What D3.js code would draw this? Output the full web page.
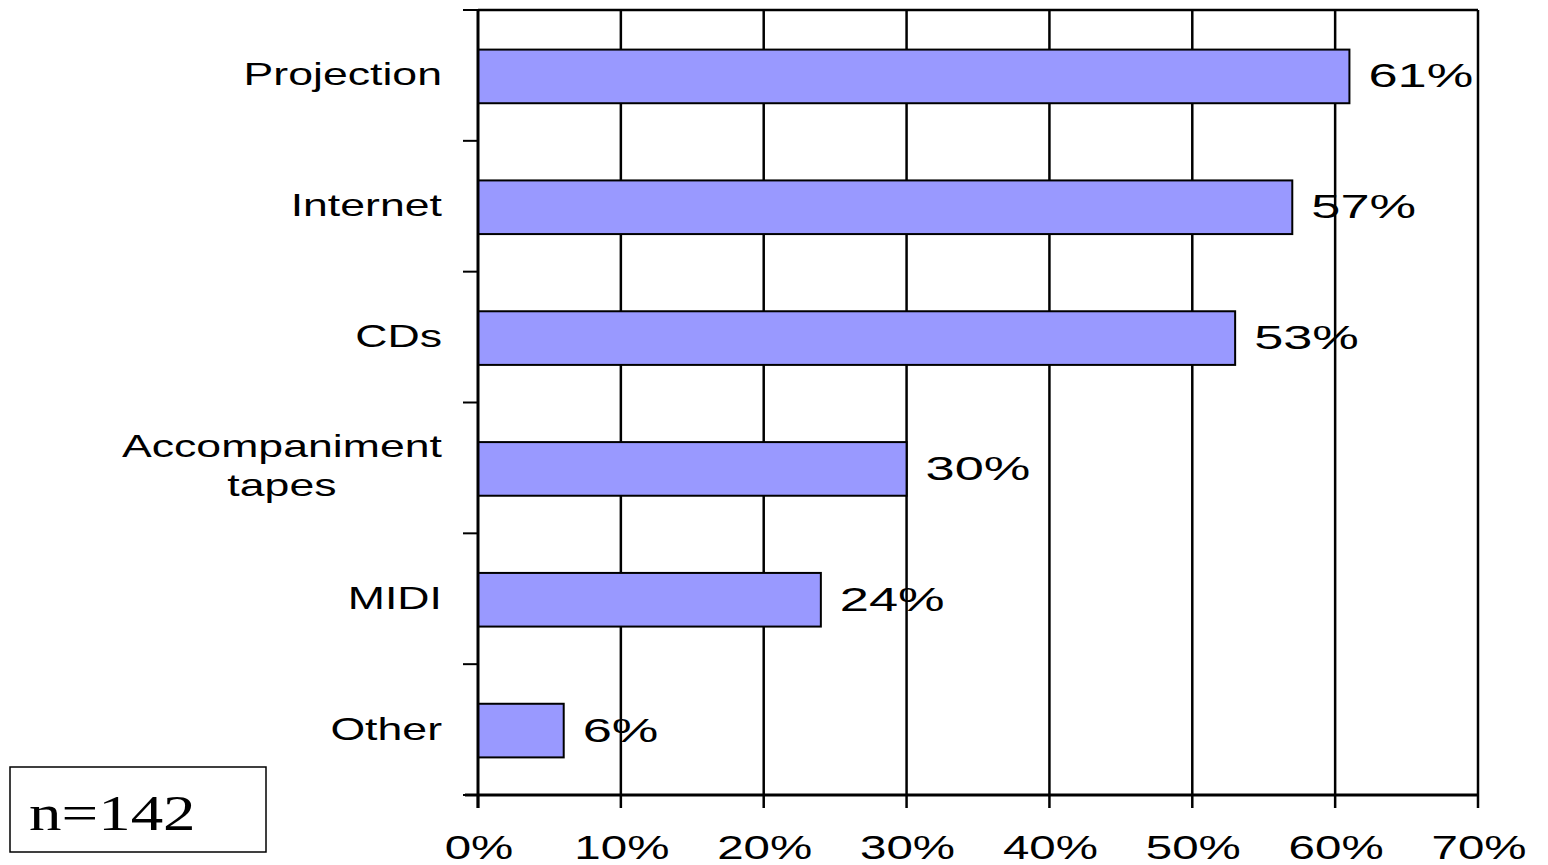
<!DOCTYPE html>
<html><head><meta charset="utf-8">
<script src="https://cdn.jsdelivr.net/npm/d3@7"></script>
<style>body{margin:0;background:#fff}svg{display:block}</style>
</head><body>
<svg id="c" width="1548" height="865"></svg>
<script>
const categories = ["Projection", "Internet", "CDs", "Accompaniment\ntapes", "MIDI", "Other"];
const values = [61, 57, 53, 30, 24, 6];
const xTicks = [0, 10, 20, 30, 40, 50, 60, 70];
const sampleNote = "n=142";

const svg = d3.select("#c");
const L = 478, R = 1478, T = 10, B = 795;
const x = d3.scaleLinear().domain([0, 70]).range([L, R]);
const y = d3.scaleBand().domain(categories).range([T, B]).padding(0);
const barH = y.bandwidth() * 0.41;
const font = "'Liberation Sans', Arial, sans-serif";

// gridlines
svg.append("g").selectAll("line").data(xTicks.slice(1)).join("line")
  .attr("x1", d => x(d)).attr("x2", d => x(d)).attr("y1", T).attr("y2", B)
  .attr("stroke", "#000").attr("stroke-width", 2.5);
svg.append("line").attr("x1", L).attr("x2", R).attr("y1", T).attr("y2", T)
  .attr("stroke", "#000").attr("stroke-width", 2.5);

// bars
svg.append("g").selectAll("rect").data(categories).join("rect")
  .attr("x", L).attr("y", d => y(d) + y.bandwidth() / 2 - barH / 2 + 1)
  .attr("width", (d, i) => x(values[i]) - L).attr("height", barH)
  .attr("fill", "#9999FF").attr("stroke", "#000").attr("stroke-width", 2);

// y axis line + ticks
svg.append("line").attr("x1", L).attr("x2", L).attr("y1", T).attr("y2", B + 13)
  .attr("stroke", "#000").attr("stroke-width", 3);
const yBounds = categories.map(c => y(c)).concat([B]);
svg.append("g").selectAll("line").data(yBounds).join("line")
  .attr("x1", L - 15).attr("x2", L).attr("y1", d => d).attr("y2", d => d)
  .attr("stroke", "#000").attr("stroke-width", 2);

// x axis
svg.append("line").attr("x1", L - 13).attr("x2", R).attr("y1", B).attr("y2", B)
  .attr("stroke", "#000").attr("stroke-width", 3);
svg.append("g").selectAll("line").data(xTicks).join("line")
  .attr("x1", d => x(d)).attr("x2", d => x(d)).attr("y1", B).attr("y2", B + 13)
  .attr("stroke", "#000").attr("stroke-width", 2.5);
svg.append("g").selectAll("g").data(xTicks).join("g")
  .attr("transform", d => `translate(${x(d) + 1},859) scale(1.44,1)`)
  .append("text").attr("text-anchor", "middle")
  .attr("font-family", font).attr("font-size", 33).attr("fill", "#000")
  .text(d => d + "%");

// category labels
const sx = 1.44;
const fs = 31;
categories.forEach((c, i) => {
  const lines = c.split("\n");
  const cy = y(c) + y.bandwidth() / 2;
  const g = svg.append("g");
  if (lines.length === 1) {
    g.attr("transform", `translate(442,${cy + 10}) scale(${sx},1)`)
      .append("text").attr("text-anchor", "end")
      .attr("font-family", font).attr("font-size", fs).text(c);
  } else {
    const t = g.append("text").attr("font-family", font).attr("font-size", fs)
      .attr("text-anchor", "middle");
    const lh = 39;
    lines.forEach((ln, j) => t.append("tspan").attr("x", 0)
      .attr("y", (j - (lines.length - 1) / 2) * lh + 10).text(ln));
    let maxW = 0;
    t.selectAll("tspan").each(function () { maxW = Math.max(maxW, this.getComputedTextLength()); });
    g.attr("transform", `translate(${442 - maxW * sx / 2},${cy - 1}) scale(${sx},1)`);
  }
});

// value labels
svg.append("g").selectAll("g").data(categories).join("g")
  .attr("transform", (d, i) => `translate(${x(values[i]) + 19},${y(d) + y.bandwidth() / 2 + 12}) scale(1.54,1)`)
  .append("text").attr("font-family", font).attr("font-size", 34)
  .text((d, i) => values[i] + "%");

// n box
svg.append("rect").attr("x", 10).attr("y", 767).attr("width", 256).attr("height", 85)
  .attr("fill", "none").attr("stroke", "#000").attr("stroke-width", 1.5);
svg.append("g").attr("transform", "translate(29,830) scale(1.3,1)")
  .append("text").attr("font-family", "'Liberation Serif', 'Times New Roman', serif")
  .attr("font-size", 50).text(sampleNote);
</script>
</body></html>
